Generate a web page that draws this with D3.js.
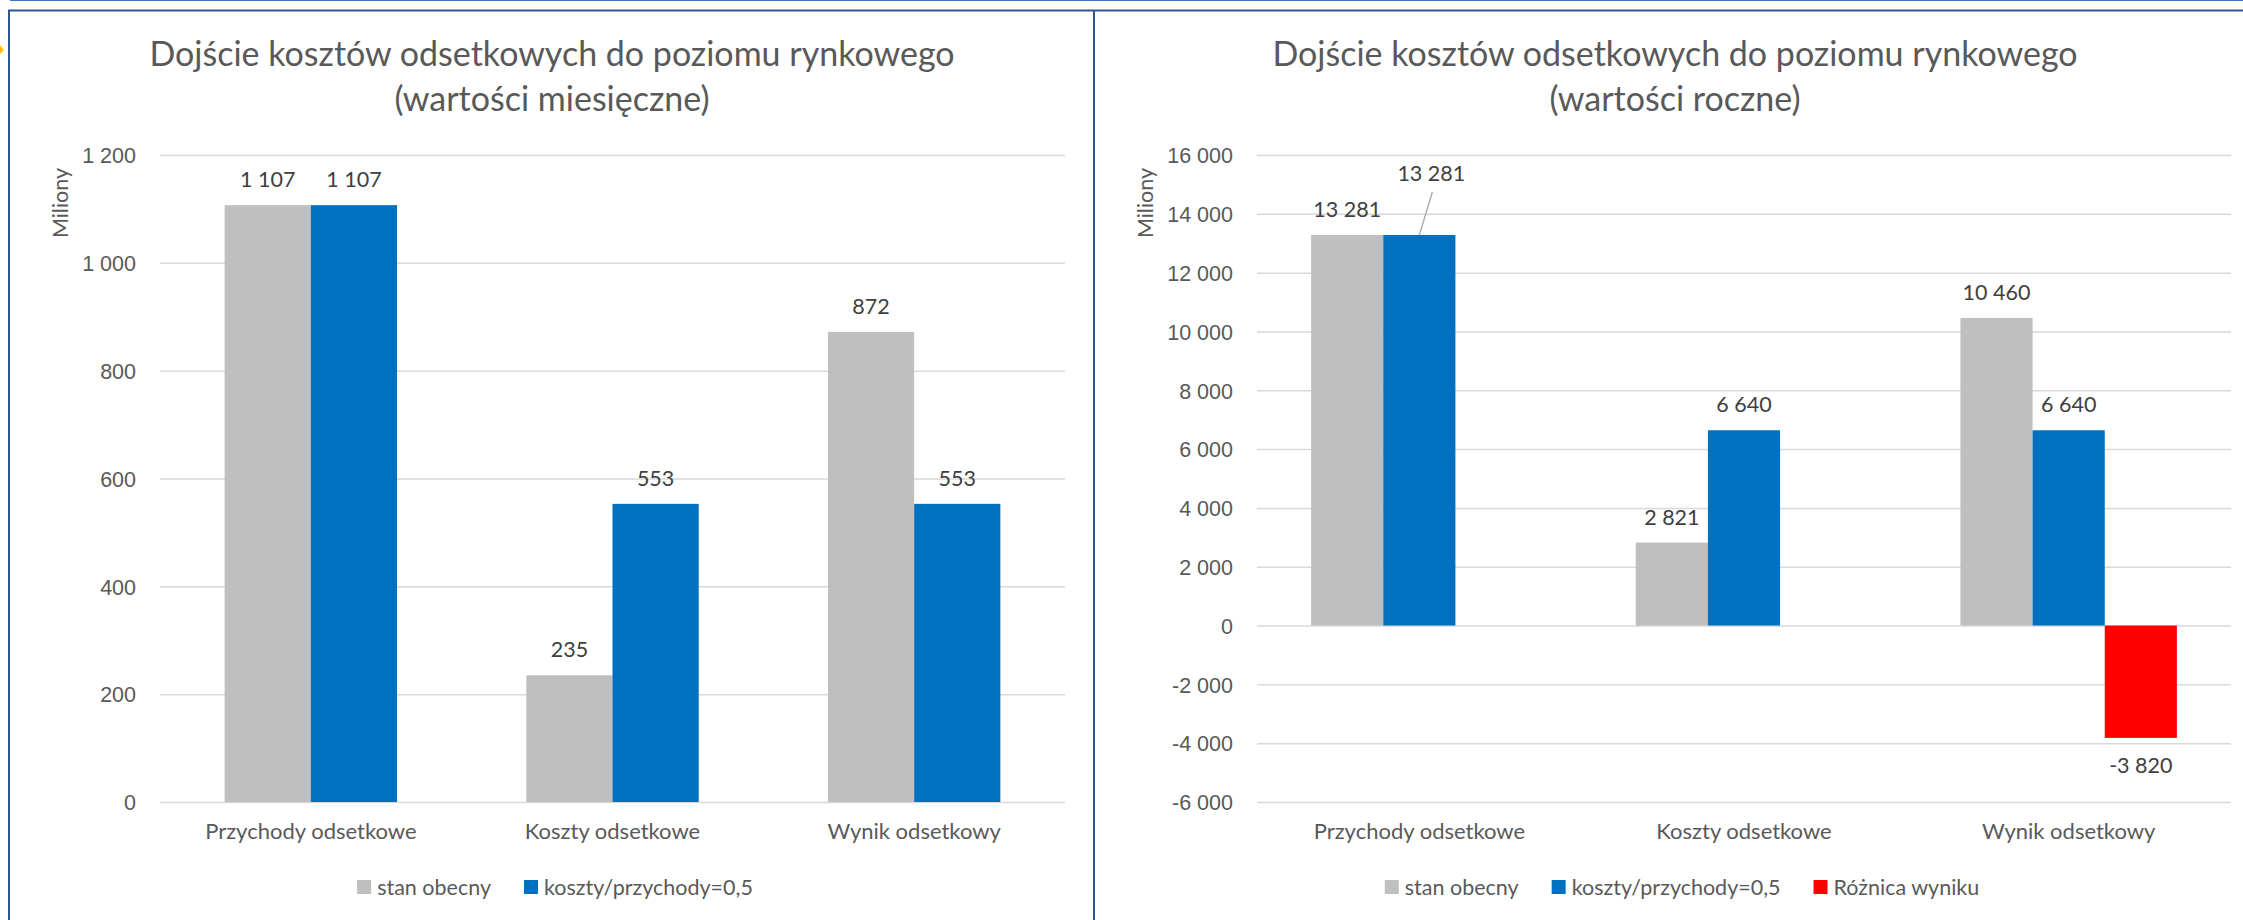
<!DOCTYPE html>
<html lang="pl">
<head>
<meta charset="UTF-8">
<title>Dojście kosztów odsetkowych do poziomu rynkowego</title>
<script src="https://d3js.org/d3.v7.min.js"></script>
<style>
  html, body { margin: 0; padding: 0; background: #fff; }
  svg { display: block; font-family: Lato, "Open Sans", sans-serif; }
  .grid line { stroke: #d9d9d9; stroke-width: 1.5px; }
  .grid .domain { display: none; }
  .grid text, .legend-label, .axis-title { fill: #595959; font-size: 21.5px; }
  .cat-label { fill: #595959; font-size: 22px; }
  .value-label { fill: #404040; font-size: 21.5px; }
  .chart-title { fill: #595959; font-size: 34px; font-weight: 400; }
  .leader { stroke: #a6a6a6; stroke-width: 1.3px; }
  .frame { stroke: #2f5597; stroke-width: 2px; }
</style>
</head>
<body>
<script>
const categories = ["Przychody odsetkowe", "Koszty odsetkowe", "Wynik odsetkowy"];

// wartości miesięczne (mln)
const monthlySeries = ["stan obecny", "koszty/przychody=0,5"];
const monthlyCurrent = [1107, 235, 872];
const monthlyTarget = [1107, 553, 553];
const monthlyTicks = [0, 200, 400, 600, 800, 1000, 1200];

// wartości roczne (mln)
const yearlySeries = ["stan obecny", "koszty/przychody=0,5", "Różnica wyniku"];
const yearlyCurrent = [13281, 2821, 10460];
const yearlyTarget = [13281, 6640, 6640];
const yearlyDiff = [null, null, -3820];
const yearlyTicks = [-6000, -4000, -2000, 0, 2000, 4000, 6000, 8000, 10000, 12000, 14000, 16000];

const seriesColors = ["#bfbfbf", "#0070c0", "#ff0000"];

const width = 2243, height = 920;

const pl = d3.formatLocale({decimal: ",", thousands: "\u00a0", grouping: [3], currency: ["", ""], minus: "-"});
const fmt = pl.format(",d");

const svg = d3.select("body").append("svg")
    .attr("width", width)
    .attr("height", height);

svg.append("rect").attr("width", width).attr("height", height).attr("fill", "#fff");

// ramki
svg.append("line").attr("x1", 10).attr("x2", width).attr("y1", 0.5).attr("y2", 0.5)
    .attr("stroke", "#4472c4").attr("stroke-width", 1);
svg.append("line").attr("class", "frame").attr("x1", 8).attr("x2", width).attr("y1", 10.5).attr("y2", 10.5);
svg.append("line").attr("class", "frame").attr("x1", 9).attr("x2", 9).attr("y1", 10).attr("y2", height);
svg.append("line").attr("class", "frame").attr("x1", 1094).attr("x2", 1094).attr("y1", 10).attr("y2", height);
svg.append("path").attr("d", "M0,45 L4,50 L0,54 Z").attr("fill", "#ffc000");

function drawChart(cfg) {
    const g = svg.append("g");
    const plotW = cfg.right - cfg.left;

    const y = d3.scaleLinear()
        .domain(d3.extent(cfg.ticks))
        .range([cfg.bottom, cfg.top]);

    const x0 = d3.scaleBand()
        .domain(categories)
        .range([cfg.left, cfg.right])
        .padding(0);

    // gap width 150% jak w Excelu
    const x1 = d3.scaleBand()
        .domain(cfg.series)
        .range([0, x0.bandwidth()])
        .paddingInner(0)
        .paddingOuter(0.75);

    // siatka + etykiety osi Y
    g.append("g")
        .attr("class", "grid")
        .attr("transform", `translate(${cfg.left},0)`)
        .call(d3.axisLeft(y)
            .tickValues(cfg.ticks)
            .tickSize(-plotW)
            .tickPadding(24)
            .tickFormat(fmt))
        .selectAll("text")
        .attr("dy", "0.36em");

    // słupki
    cfg.series.forEach((s, i) => {
        const vals = cfg.values[i];
        const data = categories.map((c, j) => ({cat: c, v: vals[j], j}))
            .filter(d => d.v !== null);

        g.append("g").selectAll("rect")
            .data(data)
            .join("rect")
            .attr("x", d => x0(d.cat) + x1(s))
            .attr("width", x1.bandwidth())
            .attr("y", d => y(Math.max(0, d.v)))
            .attr("height", d => Math.abs(y(d.v) - y(0)))
            .attr("fill", seriesColors[i]);

        data.forEach(d => {
            const cx = x0(d.cat) + x1(s) + x1.bandwidth() / 2;
            let lx = cx;
            let ly = d.v >= 0 ? y(d.v) - 18 : y(d.v) + 35;
            const moved = cfg.moved && cfg.moved.series === i && cfg.moved.cat === d.j;
            if (moved) {
                lx += cfg.moved.dx;
                ly += cfg.moved.dy;
                g.append("line")
                    .attr("class", "leader")
                    .attr("x1", cx).attr("y1", y(d.v))
                    .attr("x2", cx + cfg.moved.dx + 1).attr("y2", ly + 11);
            }
            g.append("text")
                .attr("class", "value-label")
                .attr("x", lx)
                .attr("y", ly)
                .attr("text-anchor", "middle")
                .text(fmt(d.v));
        });
    });

    // etykiety kategorii
    g.selectAll(".cat-label")
        .data(categories)
        .join("text")
        .attr("class", "cat-label")
        .attr("x", d => x0(d) + x0.bandwidth() / 2)
        .attr("y", cfg.bottom + 37)
        .attr("text-anchor", "middle")
        .text(d => d);

    // tytuł osi
    g.append("text")
        .attr("class", "axis-title")
        .attr("transform", `translate(${cfg.frameLeft + 59},203) rotate(-90)`)
        .attr("text-anchor", "middle")
        .text("Miliony");

    // tytuł wykresu
    const title = g.append("text")
        .attr("class", "chart-title")
        .attr("text-anchor", "middle");
    cfg.title.forEach((t, k) => {
        title.append("tspan")
            .attr("x", cfg.titleX)
            .attr("y", 66 + k * 45)
            .text(t);
    });

    // legenda
    const leg = g.append("g");
    let cursor = 0;
    cfg.series.forEach((s, i) => {
        const item = leg.append("g").attr("transform", `translate(${cursor},0)`);
        item.append("rect")
            .attr("x", 0).attr("y", -7)
            .attr("width", 14).attr("height", 14)
            .attr("fill", seriesColors[i]);
        const t = item.append("text")
            .attr("class", "legend-label")
            .attr("x", 20)
            .attr("dy", "0.36em")
            .text(s);
        cursor += 20 + t.node().getComputedTextLength() + 33;
    });
    const legW = cursor - 33;
    leg.attr("transform", `translate(${cfg.legendX - legW / 2},887)`);
}

drawChart({
    frameLeft: 9,
    left: 160, right: 1065, top: 155, bottom: 802,
    ticks: monthlyTicks,
    series: monthlySeries,
    values: [monthlyCurrent, monthlyTarget],
    title: ["Dojście kosztów odsetkowych do poziomu rynkowego", "(wartości miesięczne)"],
    titleX: 552,
    legendX: 555
});

drawChart({
    frameLeft: 1094,
    left: 1257, right: 2231, top: 155, bottom: 802,
    ticks: yearlyTicks,
    series: yearlySeries,
    values: [yearlyCurrent, yearlyTarget, yearlyDiff],
    title: ["Dojście kosztów odsetkowych do poziomu rynkowego", "(wartości roczne)"],
    titleX: 1675,
    legendX: 1682,
    moved: {series: 1, cat: 0, dx: 12, dy: -36}
});
</script>
</body>
</html>
